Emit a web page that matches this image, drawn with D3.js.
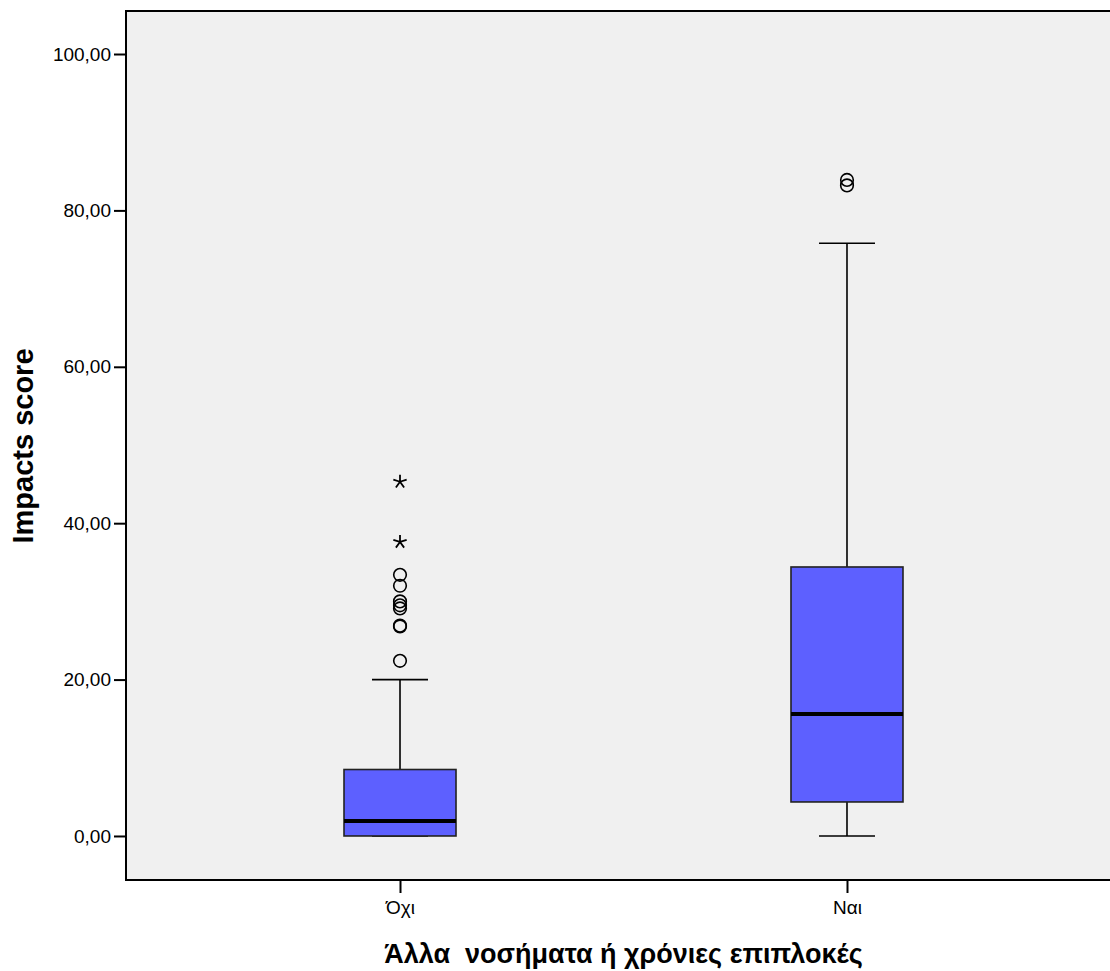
<!DOCTYPE html>
<html><head><meta charset="utf-8">
<script src="https://cdn.jsdelivr.net/npm/d3@7"></script>
<style>body{margin:0;background:#fff}svg{display:block}</style>
</head><body>
<svg id="chart" width="1110" height="971"></svg>
<script>
const categories = ["Όχι", "Ναι"];
const whiskerLow = [0, 0];
const q1 = [0, 4.35];
const median = [1.9, 15.6];
const q3 = [8.5, 34.4];
const whiskerHigh = [20, 75.8];
const outliersOxi = [22.4, 26.8, 26.9, 29.1, 29.5, 30.0, 32.0, 33.4];
const outliersNai = [83.2, 83.9];
const extremesOxi = [37.6, 45.3];
const extremesNai = [];
const yTicks = [0, 20, 40, 60, 80, 100];
const yTitle = "Impacts score";
const xTitle = "Άλλα  νοσήματα ή χρόνιες επιπλοκές";

(function () {
const svg = d3.select("#chart");
const pLeft = 126, pRight = 1121, pTop = 11, pBottom = 880;
const font = "'Liberation Sans', Arial, sans-serif";

const y = d3.scaleLinear().domain([-5.63, 105.5]).range([pBottom, pTop]);
const x = d3.scalePoint().domain(categories).range([pLeft, pRight]).padding(0.613);

const loc = d3.formatLocale({decimal: ",", thousands: ".", grouping: [3], currency: ["", ""]});
const fmt = loc.format(".2f");

svg.append("rect").attr("x", pLeft).attr("y", pTop).attr("width", pRight - pLeft).attr("height", pBottom - pTop)
  .attr("fill", "#f0f0f0");

const boxW = 112, capW = 56;
const data = categories.map((c, i) => ({
  c, lo: whiskerLow[i], q1: q1[i], med: median[i], q3: q3[i], hi: whiskerHigh[i],
  out: i === 0 ? outliersOxi : outliersNai,
  ext: i === 0 ? extremesOxi : extremesNai
}));

const g = svg.append("g");
data.forEach(d => {
  const cx = x(d.c);
  g.append("line").attr("x1", cx).attr("x2", cx).attr("y1", y(d.q3)).attr("y2", y(d.hi))
    .attr("stroke", "#000").attr("stroke-width", 1.6);
  g.append("line").attr("x1", cx).attr("x2", cx).attr("y1", y(d.lo)).attr("y2", y(d.q1))
    .attr("stroke", "#000").attr("stroke-width", 1.6);
  g.append("line").attr("x1", cx - capW / 2).attr("x2", cx + capW / 2).attr("y1", y(d.hi)).attr("y2", y(d.hi))
    .attr("stroke", "#000").attr("stroke-width", 1.6);
  g.append("line").attr("x1", cx - capW / 2).attr("x2", cx + capW / 2).attr("y1", y(d.lo)).attr("y2", y(d.lo))
    .attr("stroke", "#000").attr("stroke-width", 1.6);
  g.append("rect").attr("x", cx - boxW / 2).attr("y", y(d.q3)).attr("width", boxW)
    .attr("height", y(d.q1) - y(d.q3)).attr("fill", "#5d60ff").attr("stroke", "#222").attr("stroke-width", 1.6);
  g.append("line").attr("x1", cx - boxW / 2).attr("x2", cx + boxW / 2).attr("y1", y(d.med)).attr("y2", y(d.med))
    .attr("stroke", "#000").attr("stroke-width", 4);
  d.out.forEach(v => {
    g.append("circle").attr("cx", cx).attr("cy", y(v)).attr("r", 6.3)
      .attr("fill", "none").attr("stroke", "#000").attr("stroke-width", 1.6);
  });
  d.ext.forEach(v => {
    const cy = y(v), r = 7;
    let p = "";
    for (let k = 0; k < 5; k++) {
      const a = -Math.PI / 2 + k * 2 * Math.PI / 5;
      p += `M${cx},${cy}L${cx + r * Math.cos(a)},${cy + r * Math.sin(a)}`;
    }
    g.append("path").attr("d", p).attr("stroke", "#000").attr("stroke-width", 1.8).attr("fill", "none");
  });
});

svg.append("path")
  .attr("d", `M${pRight},${pTop}H${pLeft}V${pBottom}H${pRight}`)
  .attr("fill", "none").attr("stroke", "#000").attr("stroke-width", 2);

const yAxis = svg.append("g").attr("transform", `translate(${pLeft},0)`)
  .call(d3.axisLeft(y).tickValues(yTicks).tickFormat(fmt).tickSize(12).tickPadding(3));
yAxis.select(".domain").remove();
yAxis.selectAll(".tick line").attr("stroke", "#000").attr("stroke-width", 2);
yAxis.selectAll(".tick text").attr("font-family", font).attr("font-size", 19).attr("fill", "#000");

const xAxis = svg.append("g").attr("transform", `translate(0,${pBottom})`)
  .call(d3.axisBottom(x).tickSize(13).tickPadding(8));
xAxis.select(".domain").remove();
xAxis.selectAll(".tick line").attr("stroke", "#000").attr("stroke-width", 2);
xAxis.selectAll(".tick text").attr("font-family", font).attr("font-size", 19).attr("fill", "#000");

svg.append("text").attr("x", (pLeft + pRight) / 2).attr("y", 963).attr("text-anchor", "middle")
  .style("white-space", "pre").attr("xml:space", "preserve")
  .attr("font-family", font).attr("font-weight", "bold").attr("font-size", 27).text(xTitle);
svg.append("text").attr("transform", `translate(33,446) rotate(-90)`).attr("text-anchor", "middle")
  .attr("font-family", font).attr("font-weight", "bold").attr("font-size", 29).text(yTitle);
})();
</script>
</body></html>
